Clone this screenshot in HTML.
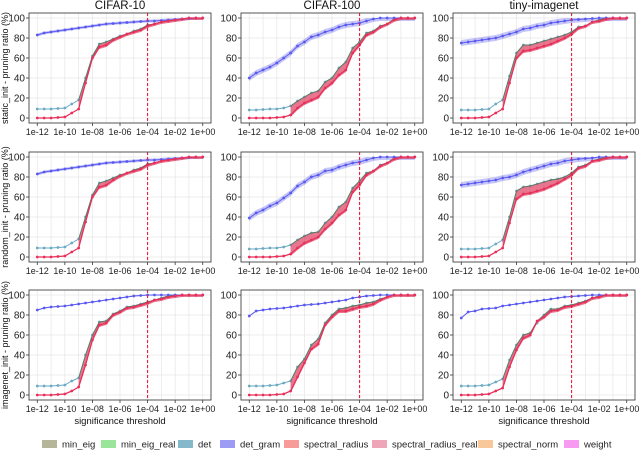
<!DOCTYPE html>
<html><head><meta charset="utf-8"><style>
html,body{margin:0;padding:0;background:#fff}
svg{display:block;font-family:"Liberation Sans","DejaVu Sans",sans-serif}
</style></head><body>
<svg id="fig" width="640" height="454" viewBox="0 0 640 454" xmlns="http://www.w3.org/2000/svg"></svg>
<script>
// ---- data ----
const thresholdsLog = [-12,-11.5,-11,-10.5,-10,-9.5,-9,-8.5,-8,-7.5,-7,-6.5,-6,-5.5,-5,-4.5,-4,-3.5,-3,-2.5,-2,-1.5,-1,-0.5,0];
const xTickLabels = ["1e-12","1e-10","1e-08","1e-06","1e-04","1e-02","1e+00"];
const xTickLogs = [-12,-10,-8,-6,-4,-2,0];
const yTicks = [0,20,40,60,80,100];
const datasets = ["CIFAR-10","CIFAR-100","tiny-imagenet"];
const inits = ["static_init","random_init","imagenet_init"];
const legendLabels = ["min_eig","min_eig_real","det","det_gram","spectral_radius","spectral_radius_real","spectral_norm","weight"];
const significanceLine = -4;

// row: static_init
const detGram_s_c10 = [83,85,86,87,88,89,90,91,92,93,94,94.5,95,95.5,96,96.5,97,97,97.5,98,98.5,99,99.5,100,100];
const det_s_c10     = [9,9,9,9.5,10,14,18,40,62,74,76,79,82,84,87,89,93,94,96,97,98,99,100,100,100];
const red_s_c10     = [0,0,0,0.5,1,5,9,35,60,71,73,78,81,84,86,88,92,94,96,97,98,99,100,100,100];
const detGram_s_c100= [40,45,48,51,55,60,65,72,76,81,83,86,88,91,93,94,95,97,99,100,100,100,100,100,100];
const det_s_c100    = [8,8,8.5,9,9,10,12,17,21,25,27,36,40,50,56,70,76,85,87,92,94,99,100,100,100];
const red_s_c100    = [0,0,0,0,0.5,1,3,10,15,18,21,30,35,43,48,65,73,83,86,91,94,98,100,100,100];
const detGram_s_tin = [75,76,77,78,79,80,82,84,86,89,90,92,93,95,96,97,98,98.5,99,99.5,100,100,100,100,100];
const det_s_tin     = [8,8,8,8.5,9,14,18,42,65,73,73,75,77,79,81,83,86,91,92,96,98,100,100,100,100];
const red_s_tin     = [0,0,0,0.5,1,5,9,35,60,67,68,70,72,74,77,80,84,90,92,96,97,99,100,100,100];
// row: random_init
const detGram_r_c10 = [83,85,86,87,88,89,90,91,92,93,94,94.5,95,95.5,96,96.5,97,97,97.5,98,98.5,99,99.5,100,100];
const det_r_c10     = [9,9,9,9.5,10,14,18,40,62,74,76,79,82,84,87,89,93,94,96,97,98,99,100,100,100];
const red_r_c10     = [0,0,0,0.5,1,5,9,35,60,70,72,77,81,84,86,88,92,94,96,97,98,99,100,100,100];
const detGram_r_c100= [39,44,47,51,54,59,64,71,75,80,82,86,87,90,92,94,95,97,99,100,100,100,100,100,100];
const det_r_c100    = [8,8,8.5,9,9,10,12,17,21,24,25,34,40,50,55,69,76,84,86,92,94,99,100,100,100];
const red_r_c100    = [0,0,0,0,0.5,1,3,9,14,17,20,28,34,42,47,65,72,82,86,91,94,98,100,100,100];
const detGram_r_tin = [72,73,74,75,76,77,79,80,82,85,87,89,91,93,94,96,97,98,98.5,99,100,100,100,100,100];
const det_r_tin     = [8,8,8,8.5,9,13,17,40,66,70,71,73,75,77,78,80,84,90,92,96,98,100,100,100,100];
const red_r_tin     = [0,0,0,0.5,1,5,9,34,58,63,64,66,68,71,74,78,82,89,91,96,97,99,100,100,100];
// row: imagenet_init
const detGram_i_c10 = [85,87,88,88.5,89,90,91,92,93,94,95,96,97,98,99,99.5,100,100,100,100,100,100,100,100,100];
const det_i_c10     = [9,9,9,9.5,10,14,17,40,60,73,74,81,84,88,89,91,93,95,97,99,100,100,100,100,100];
const red_i_c10     = [0,0,0,0.5,1,4,8,30,55,70,72,80,83,87,88,90,92,95,96,98,99,100,100,100,100];
const detGram_i_c100= [79,84,85,86,86.5,87,88,89,90,90.5,91,92,93,94,95,97,98,99,99.5,100,100,100,100,100,100];
const det_i_c100    = [9,9,9,9.5,10,12,14,28,36,50,56,72,80,86,87,89,90,92,93,96,98,100,100,100,100];
const red_i_c100    = [0,0,0,0,0.5,1,4,18,32,46,51,70,78,84,84,86,88,89,91,95,98,100,100,100,100];
const detGram_i_tin = [77,83,84,86,86.5,87,89,90,91,92,93,94,95,96,97,98,98.5,99,99.5,100,100,100,100,100,100];
const det_i_tin     = [9,9,9,9.5,10,13,16,35,50,60,62,72,80,86,86,89,90,92,94,97,99,100,100,100,100];
const red_i_tin     = [0,0,0,0.5,1,4,7,28,45,57,60,74,78,84,85,88,89,91,93,97,98,100,100,100,100];

const panelSeries = [
 [[detGram_s_c10,det_s_c10,red_s_c10],[detGram_s_c100,det_s_c100,red_s_c100],[detGram_s_tin,det_s_tin,red_s_tin]],
 [[detGram_r_c10,det_r_c10,red_r_c10],[detGram_r_c100,det_r_c100,red_r_c100],[detGram_r_tin,det_r_tin,red_r_tin]],
 [[detGram_i_c10,det_i_c10,red_i_c10],[detGram_i_c100,det_i_c100,red_i_c100],[detGram_i_tin,det_i_tin,red_i_tin]]
];
const gramBand = [[1.5,3,3],[1.5,3,3],[0.6,0.6,0.6]];

// ---- drawing ----
const NS="http://www.w3.org/2000/svg";
const svg=document.getElementById('fig');
function mk(tag,attrs,parent,text){const e=document.createElementNS(NS,tag);for(const k in attrs)e.setAttribute(k,attrs[k]);if(text!==undefined)e.textContent=text;(parent||svg).appendChild(e);return e;}
const colLeft=[29,241,453], W=182, rowTop=[13,152,290], H=110;
const legendColors=["#b5b59a","#9be59b","#86b8cc","#9c9cf5","#f79a9a","#efa5b8","#f8c79a","#f79af2"];

for(let r=0;r<3;r++){for(let c=0;c<3;c++){
  const L=colLeft[c],T=rowTop[r];
  const xs=v=>L+W*(v+12+0.6)/13.2;
  const ys=v=>T+H-H*(v+5)/110;
  const g=mk('g',{},svg);
  
  
  for(let d=-12;d<=0;d++){const gl=mk('line',{x1:xs(d),x2:xs(d),y1:T,y2:T+H,stroke:'#e6e6e6','stroke-width':0.7},g);}
  yTicks.forEach(v=>{const gl=mk('line',{x1:L,x2:L+W,y1:ys(v),y2:ys(v),stroke:'#e6e6e6','stroke-width':0.7},g);
    const t=mk('text',{x:L-4,y:ys(v)+3.5,'text-anchor':'end','font-size':10,fill:'#222'},g,String(v));
    mk('line',{x1:L-3,x2:L,y1:ys(v),y2:ys(v),stroke:'#333','stroke-width':0.8},g);});
  xTickLogs.forEach((v,i)=>{const t=mk('text',{x:xs(v),y:T+H+12,'text-anchor':'middle','font-size':9,fill:'#222'},g,xTickLabels[i]);
    mk('line',{x1:xs(v),x2:xs(v),y1:T+H,y2:T+H+3,stroke:'#333','stroke-width':0.8},g);});
  const [gram,det,red]=panelSeries[r][c];
  const bw=gramBand[r][c];
  let pb=thresholdsLog.map((x,i)=>xs(x)+','+ys(Math.min(100,gram[i]+bw))).join(' ')+' '+thresholdsLog.map((x,i)=>xs(x)+','+ys(gram[i]-bw)).reverse().join(' ');
  const gb=mk('polygon',{points:pb,fill:'#7070ee','fill-opacity':0.4},g);
  function series(vals,color,name,w){
    const pts=thresholdsLog.map((x,i)=>xs(x)+','+ys(vals[i])).join(' ');
    const pl=mk('polyline',{points:pts,fill:'none',stroke:color,'stroke-width':w},g);
    
    thresholdsLog.forEach((x,i)=>{const d=mk('circle',{cx:xs(x),cy:ys(vals[i]),r:1.4,fill:color},g);});
  }
  series(det,'#6aaac4','det',1);
  const idx=thresholdsLog.map((x,i)=>i).filter(i=>i>=6);
  let cb=idx.map(i=>xs(thresholdsLog[i])+','+ys(Math.max(red[i],det[i])+0.5)).join(' ')+' '+idx.map(i=>xs(thresholdsLog[i])+','+ys(red[i]-2)).reverse().join(' ');
  const cbp=mk('polygon',{points:cb,fill:'#e0486a','fill-opacity':0.75},g);
  const gp=idx.map(i=>xs(thresholdsLog[i])+','+ys(Math.max(red[i],det[i]))).join(' ');
  const gl2=mk('polyline',{points:gp,fill:'none',stroke:'#2f8a55','stroke-width':0.9,'stroke-opacity':0.75},g);
  series(gram,'#5a5af0','det-gram',1);
  series(red,'#e8305a','spectral-radius',1.3);
  const sl=mk('line',{x1:xs(significanceLine),x2:xs(significanceLine),y1:T,y2:T+H,stroke:'#ee1c3c','stroke-width':1.1,'stroke-dasharray':'3,2'},g);
  
  const fr=mk('rect',{x:L,y:T,width:W,height:H,fill:'none',stroke:'#444','stroke-width':0.9},g);
  
  if(r===0){const t=mk('text',{x:L+W/2,y:9,'text-anchor':'middle','font-size':11.5,fill:'#111'},svg,datasets[c]);}
  if(r===2){const t=mk('text',{x:L+W/2,y:424,'text-anchor':'middle','font-size':9.5,fill:'#111'},svg,'significance threshold');}
  if(c===0){const cy=T+H/2;const t=mk('text',{x:0,y:0,'text-anchor':'middle','font-size':9,fill:'#111',transform:'translate(8,'+cy+') rotate(-90)'},svg,inits[r]+' - pruning ratio (%)');}
}}
const legendX=[42,101,178,220,284,372,478,564];
legendLabels.forEach((lab,i)=>{
  const g=mk('g',{},svg);
  
  
  mk('rect',{x:legendX[i],y:440,width:15,height:8,fill:legendColors[i]},g);
  mk('text',{x:legendX[i]+20,y:447.5,'font-size':9.5,fill:'#222'},g,lab);
});
</script>
</body></html>
